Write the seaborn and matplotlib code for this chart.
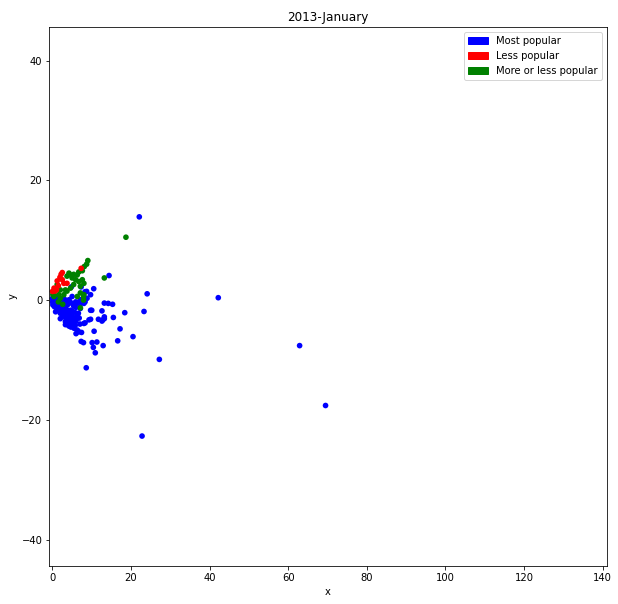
import matplotlib

matplotlib.use("Agg")

import matplotlib.patches as mpatches
import matplotlib.pyplot as plt
import pandas as pd
import seaborn as sns

# cluster points
blue_x = [0.0, 0.0, 0.1, 0.4, 0.5, 0.5, 0.9, 1.0, 1.2, 1.4, 1.6, 1.8, 2.0, 2.2, 2.4,
          2.6, 2.9, 3.0, 3.1, 3.3, 3.4, 3.3, 3.7, 3.8, 4.0, 4.2, 4.3, 4.5, 4.6, 4.6,
          5.0, 5.0, 5.0, 5.3, 5.4, 5.8, 5.9, 6.0, 6.3, 6.5, 6.6, 6.7, 7.1, 7.1, 7.4,
          7.3, 7.9, 8.0, 8.0, 8.3, 8.3, 8.6, 8.7, 8.8, 9.3, 9.7, 9.7, 9.7, 10.0, 10.1,
          10.4, 10.5, 10.6, 10.9, 11.3, 11.7, 12.6, 12.6, 12.8, 12.9, 13.2, 13.2, 13.2,
          14.2, 14.4, 15.3, 15.5, 16.6, 17.2, 18.4, 20.5, 22.1, 22.8, 23.3, 24.1, 27.2,
          42.2, 62.9, 69.5, 4.2, 5.8, 4.9, 5.3, 4.3, 7.0, 8.3, 8.3, 7.3, 4.8, 0.8, 2.0,
          3.3, 4.2,
          0.3, 0.7, 1.1, 1.5, 1.9, 2.3, 2.7, 3.1, 3.5, 3.9, 4.1, 4.4, 4.8, 5.2, 5.6,
          1.3, 2.0, 2.8, 3.6, 4.2, 4.9, 5.6, 6.0, 0.2, 0.8, 1.8, 2.6, 3.5, 4.0, 5.1,
          6.2, 3.9, 4.7, 5.5, 6.0, 6.8, 6.3, 7.0]
blue_y = [0.3, -0.3, -0.8, 0.5, -0.4, -1.1, -0.2, -0.9, -1.7, 0.4, -0.6, -1.4, -2.2,
          -0.2, -1.0, -1.8, -2.8, 0.2, -0.5, -1.4, -2.3, -3.6, -3.3, -0.8, -1.9, -4.3,
          -2.8, -0.3, -1.7, -3.6, -4.1, -2.5, 0.6, -3.9, -1.0, -4.2, -0.3, -5.6, -5.0,
          -5.2, -2.2, -5.3, -1.4, 0.05, -5.4, -6.9, -7.1, -3.9, -0.55, -0.3, -3.8, -11.3,
          1.45, 0.3, -3.3, 0.9, -3.2, -1.7, -1.7, -7.1, -7.9, 1.9, -5.2, -8.8, -7.0, -3.2,
          -1.8, -3.5, -3.3, -7.6, -0.5, -2.8, -3.1, -0.55, 4.1, -0.7, -2.9, -6.8, -4.8,
          -2.1, -6.1, 13.9, -22.7, -1.9, 1.05, -9.9, 0.4, -7.6, -17.6, 0.05, -3.6, -3.9,
          -3.3, -3.3, -0.7, 0.3, 1.4, 2.2, 2.2, -1.95, -3.1, -4.1, -4.3,
          -0.5, -0.7, -1.3, -1.0, -1.8, -1.5, -2.4, -2.0, -2.9, -2.6, -3.8, -3.2, -2.9,
          -3.5, -3.0, -0.3, -0.8, -1.2, -1.6, -2.2, -1.8, -2.0, -1.2, 0.0, 0.2, 0.1,
          0.0, -0.2, -0.6, -0.6, -0.4, -4.0, -4.5, -4.7, -3.4, -3.0, -2.6, -4.0]

green_x = [9.0, 8.7, 8.1, 7.6, 6.7, 6.3, 5.4, 4.6, 4.2, 3.7, 5.0, 5.9, 6.7, 7.6, 8.0,
           7.1, 5.4, 4.6, 3.3, 2.0, 1.6, 0.4, 2.9, 3.7, 7.1, 8.0, 6.3, 1.2, 0.1, 13.2,
           7.1, 7.9, 2.0, 0.25, 2.6, 1.5, 7.9, 18.7]
green_y = [6.6, 6.0, 5.6, 4.9, 4.7, 4.2, 4.3, 4.2, 4.5, 4.0, 3.7, 3.4, 3.1, 3.4, 2.8,
           2.3, 2.6, 2.0, 1.7, 1.7, 0.9, 0.6, 0.9, 1.5, 1.2, 0.9, 0.6, 2.6, 0.9, 3.7,
           -1.3, 0.55, 0.3, 1.1, -0.7, -0.3, 0.0, 10.5]

red_x = [2.2, 1.9, 2.5, 1.2, 2.9, 0.4, 1.0, 0.0, 3.7, 7.3, 2.5, 0.6, 1.5]
red_y = [4.3, 3.8, 3.4, 3.2, 2.8, 2.0, 1.7, 1.45, 2.8, 5.3, 4.6, 1.5, 2.4]

labels = ["Most popular", "Less popular", "More or less popular"]
colors = {"Most popular": "blue", "Less popular": "red", "More or less popular": "green"}

df = pd.concat([
    pd.DataFrame({"x": blue_x, "y": blue_y, "group": labels[0]}),
    pd.DataFrame({"x": green_x, "y": green_y, "group": labels[2]}),
    pd.DataFrame({"x": red_x, "y": red_y, "group": labels[1]}),
], ignore_index=True)

fig = plt.figure(figsize=(618 / 72, 604 / 72), dpi=72)
ax = fig.add_axes([0.0798, 0.0629, 0.9022, 0.8924])

sns.scatterplot(data=df, x="x", y="y", hue="group", palette=colors, s=32,
                linewidth=0, legend=False, ax=ax)

ax.set_xlim(-0.8, 141.1)
ax.set_ylim(-44.4, 45.6)
ax.set_xticks(range(0, 141, 20))
ax.set_yticks(range(-40, 41, 20))
ax.set_title("2013-January")
ax.set_xlabel("x")
ax.set_ylabel("y")

handles = [mpatches.Patch(color=colors[lab], label=lab) for lab in labels]
ax.legend(handles=handles, loc="upper right")

fig.savefig("out.png", dpi=72)
